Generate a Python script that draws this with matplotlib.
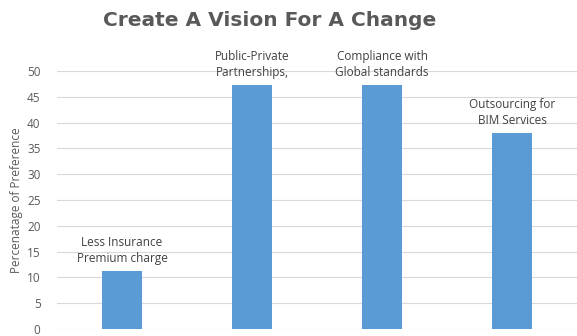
import matplotlib
matplotlib.use('Agg')
from matplotlib import pyplot as plt

categories = ['Less Insurance\nPremium charge', 'Public-Private\nPartnerships,',
              'Compliance with\nGlobal standards', 'Outsourcing for\nBIM Services']
values = [11.2, 47.3, 47.3, 38.0]
yticks = [0, 5, 10, 15, 20, 25, 30, 35, 40, 45, 50]

bar_color = '#5b9bd5'
text_color = '#595959'

fig = plt.figure(figsize=(5.77, 3.36), dpi=100)
ax = fig.add_axes([0.099, 0.021, 0.901, 0.768])

x = range(len(values))
ax.bar(x, values, width=0.31, color=bar_color, zorder=3)

for xi, v, lab in zip(x, values, categories):
    ax.annotate(lab, (xi, v), xytext=(0, 4.5), textcoords='offset points',
                ha='center', va='bottom', fontsize=8.5, color='#404040',
                family='Open Sans', linespacing=1.3)

ax.set_xlim(-0.5, len(values) - 0.5)
ax.set_ylim(0, 50)
ax.set_yticks(yticks)
ax.set_xticks([])
ax.grid(axis='y', color='#d9d9d9', linewidth=0.8, zorder=0)
for s in ax.spines.values():
    s.set_visible(False)
ax.tick_params(axis='y', length=0, pad=12, labelsize=8.5, labelcolor=text_color)
for t in ax.get_yticklabels():
    t.set_family('Open Sans')

ax.set_ylabel('Percenatage of Preference', fontsize=8.5, color=text_color,
              family='Open Sans', labelpad=3)

fig.text(0.468, 0.94, 'Create A Vision For A Change', ha='center', va='center',
         fontsize=14.5, fontweight='heavy', color=text_color, family='DejaVu Sans')

fig.savefig('out.png', dpi=100)
